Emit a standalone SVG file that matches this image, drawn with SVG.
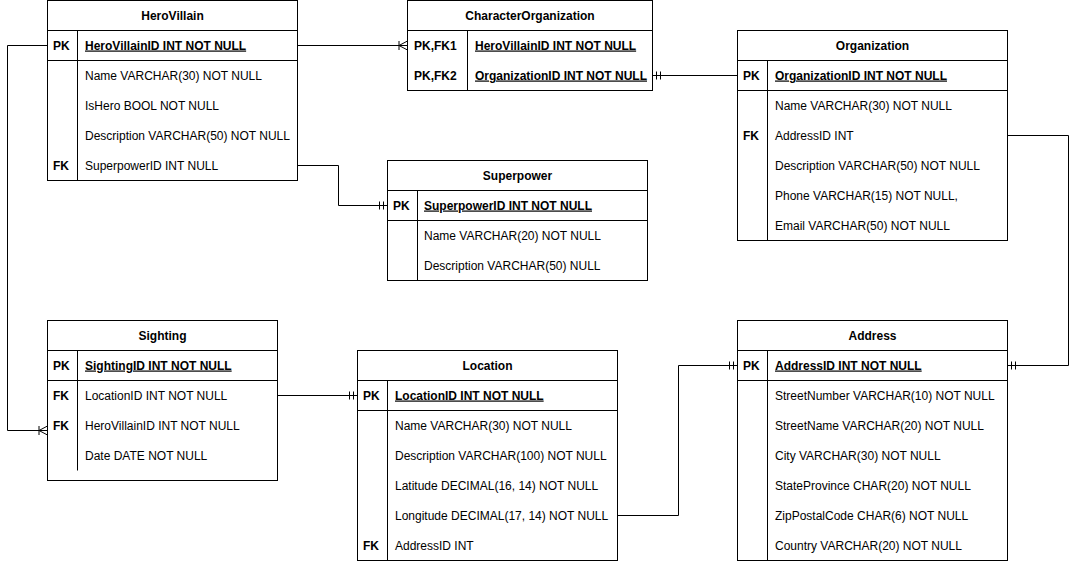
<svg xmlns="http://www.w3.org/2000/svg" width="1076" height="561" viewBox="0 0 1076 561">
<style>
text{font-family:"Liberation Sans",Arial,Helvetica,sans-serif;font-size:12px;fill:#000}
.h{font-weight:bold;text-anchor:middle}
.k{font-weight:bold}
.pk{font-weight:bold;text-decoration:underline}
.box{fill:#fff;stroke:#000;stroke-width:1}
.ln{stroke:#000;stroke-width:1;fill:none}
.c{stroke:#000;stroke-width:1;fill:none}
</style>
<defs>
<marker id="one" markerUnits="userSpaceOnUse" markerWidth="20" markerHeight="20" viewBox="-20 -10 20 20" refX="0" refY="0" orient="auto" overflow="visible">
<path d="M-4,-4V4M-8,-4V4" stroke="#000" stroke-width="1" fill="none"/>
</marker>
<marker id="many" markerUnits="userSpaceOnUse" markerWidth="20" markerHeight="20" viewBox="-20 -10 20 20" refX="0" refY="0" orient="auto" overflow="visible">
<path d="M-8.5,-4.5V4.5M-8.5,0L0,-4.5M-8.5,0L0,4.5" stroke="#000" stroke-width="1" fill="none"/>
</marker>
</defs>
<rect width="1076" height="561" fill="#fff"/>
<g id="connectors">
<path class="c" d="M297.5,45.5H407.5" marker-end="url(#many)"/>
<path class="c" d="M737.5,75.5H652.5" marker-end="url(#one)"/>
<path class="c" d="M297.5,165.5H338.5V205.5H387.5" marker-end="url(#one)"/>
<path class="c" d="M47.5,45.5H7.5V430.5H47.5" marker-end="url(#many)"/>
<path class="c" d="M277.5,395.5H357.5" marker-end="url(#one)"/>
<path class="c" d="M617.5,515.5H678.5V365.5H737.5" marker-end="url(#one)"/>
<path class="c" d="M1007.5,135.5H1068.5V365.5H1007.5" marker-end="url(#one)"/>
</g>
<g id="HeroVillain">
<rect class="box" x="47.5" y="0.5" width="250" height="180"/>
<path class="ln" d="M47.5,30.5H297.5M47.5,60.5H297.5M77.5,30.5V180.5"/>
<text class="h" x="172.5" y="19.5">HeroVillain</text>
<text class="k" x="53" y="49.5">PK</text>
<text class="pk" x="85" y="49.5">HeroVillainID INT NOT NULL</text>
<text x="85" y="79.5">Name VARCHAR(30) NOT NULL</text>
<text x="85" y="109.5">IsHero BOOL NOT NULL</text>
<text x="85" y="139.5">Description VARCHAR(50) NOT NULL</text>
<text class="k" x="53" y="169.5">FK</text>
<text x="85" y="169.5">SuperpowerID INT NULL</text>
</g>
<g id="CharacterOrganization">
<rect class="box" x="407.5" y="0.5" width="245" height="90"/>
<path class="ln" d="M407.5,30.5H652.5M467.5,30.5V90.5"/>
<text class="h" x="530" y="19.5">CharacterOrganization</text>
<text class="k" x="414" y="49.5">PK,FK1</text>
<text class="pk" x="475" y="49.5">HeroVillainID INT NOT NULL</text>
<text class="k" x="414" y="79.5">PK,FK2</text>
<text class="pk" x="475" y="79.5">OrganizationID INT NOT NULL</text>
</g>
<g id="Organization">
<rect class="box" x="737.5" y="30.5" width="270" height="210"/>
<path class="ln" d="M737.5,60.5H1007.5M737.5,90.5H1007.5M767.5,60.5V240.5"/>
<text class="h" x="872.5" y="49.5">Organization</text>
<text class="k" x="743" y="79.5">PK</text>
<text class="pk" x="775" y="79.5">OrganizationID INT NOT NULL</text>
<text x="775" y="109.5">Name VARCHAR(30) NOT NULL</text>
<text class="k" x="743" y="139.5">FK</text>
<text x="775" y="139.5">AddressID INT</text>
<text x="775" y="169.5">Description VARCHAR(50) NOT NULL</text>
<text x="775" y="199.5">Phone VARCHAR(15) NOT NULL,</text>
<text x="775" y="229.5">Email VARCHAR(50) NOT NULL</text>
</g>
<g id="Superpower">
<rect class="box" x="387.5" y="160.5" width="260" height="120"/>
<path class="ln" d="M387.5,190.5H647.5M387.5,220.5H647.5M417.5,190.5V280.5"/>
<text class="h" x="517.5" y="179.5">Superpower</text>
<text class="k" x="393" y="209.5">PK</text>
<text class="pk" x="424" y="209.5">SuperpowerID INT NOT NULL</text>
<text x="424" y="239.5">Name VARCHAR(20) NOT NULL</text>
<text x="424" y="269.5">Description VARCHAR(50) NULL</text>
</g>
<g id="Sighting">
<rect class="box" x="47.5" y="320.5" width="230" height="160"/>
<path class="ln" d="M47.5,350.5H277.5M47.5,380.5H277.5M77.5,350.5V470.5"/>
<text class="h" x="162.5" y="339.5">Sighting</text>
<text class="k" x="53" y="369.5">PK</text>
<text class="pk" x="85" y="369.5">SightingID INT NOT NULL</text>
<text class="k" x="53" y="399.5">FK</text>
<text x="85" y="399.5">LocationID INT NOT NULL</text>
<text class="k" x="53" y="429.5">FK</text>
<text x="85" y="429.5">HeroVillainID INT NOT NULL</text>
<text x="85" y="459.5">Date DATE NOT NULL</text>
</g>
<g id="Location">
<rect class="box" x="357.5" y="350.5" width="260" height="210"/>
<path class="ln" d="M357.5,380.5H617.5M357.5,410.5H617.5M387.5,380.5V560.5"/>
<text class="h" x="487.5" y="369.5">Location</text>
<text class="k" x="363" y="399.5">PK</text>
<text class="pk" x="395" y="399.5">LocationID INT NOT NULL</text>
<text x="395" y="429.5">Name VARCHAR(30) NOT NULL</text>
<text x="395" y="459.5">Description VARCHAR(100) NOT NULL</text>
<text x="395" y="489.5">Latitude DECIMAL(16, 14) NOT NULL</text>
<text x="395" y="519.5">Longitude DECIMAL(17, 14) NOT NULL</text>
<text class="k" x="363" y="549.5">FK</text>
<text x="395" y="549.5">AddressID INT</text>
</g>
<g id="Address">
<rect class="box" x="737.5" y="320.5" width="270" height="240"/>
<path class="ln" d="M737.5,350.5H1007.5M737.5,380.5H1007.5M767.5,350.5V560.5"/>
<text class="h" x="872.5" y="339.5">Address</text>
<text class="k" x="743" y="369.5">PK</text>
<text class="pk" x="775" y="369.5">AddressID INT NOT NULL</text>
<text x="775" y="399.5">StreetNumber VARCHAR(10) NOT NULL</text>
<text x="775" y="429.5">StreetName VARCHAR(20) NOT NULL</text>
<text x="775" y="459.5">City VARCHAR(30) NOT NULL</text>
<text x="775" y="489.5">StateProvince CHAR(20) NOT NULL</text>
<text x="775" y="519.5">ZipPostalCode CHAR(6) NOT NULL</text>
<text x="775" y="549.5">Country VARCHAR(20) NOT NULL</text>
</g>
</svg>
